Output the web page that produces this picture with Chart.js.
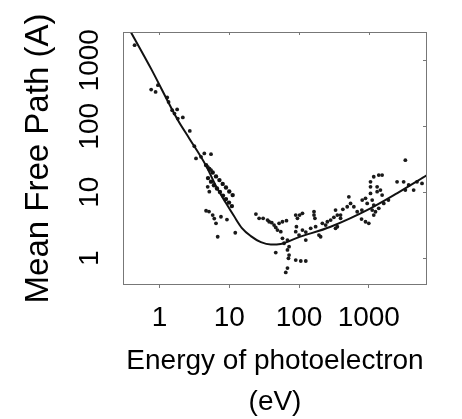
<!DOCTYPE html>
<html>
<head>
<meta charset="utf-8">
<script src="https://cdn.jsdelivr.net/npm/chart.js@4.4.1/dist/chart.umd.min.js"></script>
<style>
  html, body { margin: 0; padding: 0; background: #fff; }
  #wrap { width: 462px; height: 419px; }
</style>
</head>
<body>
<div id="wrap"><canvas id="mfp"></canvas></div>
<script>
// axis ticks
const xTickValues = [1, 10, 100, 1000];
const yTickValues = [1, 10, 100, 1000];

// universal curve (eV, Angstrom)
const curveEnergy = [0.388, 0.76, 1.83, 2.66, 4.6, 6.46, 8.97, 11.7, 15.2, 20.4, 28.4, 39.4, 54.8, 95.8, 284, 1058, 2570, 6830];
const curvePath   = [2680, 740, 124, 66, 25.8, 12.4, 6.87, 4.36, 2.87, 2.17, 1.76, 1.62, 1.65, 2.06, 3.01, 5.71, 9.72, 18.2];

// measured elements
const measEnergy = [
  0.44, 0.76, 0.88, 0.95, 1.29, 1.35, 1.52, 1.79, 1.64, 2.16, 1.83, 2.72, 3.16, 3.34, 3.94, 4.39, 5.48, 4.91, 5.48,
  4.91, 5.18, 4.65, 5.13, 5.79, 6.10, 6.46, 7.61, 9.27, 6.83, 12.2,
  24.1, 26.8, 30.6, 37.3, 40.7, 43.9, 46.4, 51.8, 57.9, 66.1, 49.1, 54.8, 89.7, 102, 94.9, 164, 164, 169,
  91.8, 89.7, 112, 100, 57.9, 68.3, 61.1, 72, 68.3, 72, 70.6, 46.4, 89.7, 106, 125, 68.3, 64.6, 125,
  147, 173, 204, 216, 255, 284, 316, 354, 334, 394, 425, 354, 334, 193, 35.4, 112, 125, 241,
  518, 491, 611, 682, 548, 805, 897, 949, 1058, 1058, 1058, 1119, 1178, 1119, 1178, 897, 1000, 787,
  1178, 1390, 1553, 1318, 1318, 1553, 1638, 1247, 1390, 1469, 2545, 3162, 4395, 3342, 4913, 5790,
  3342, 3727, 394, 795, 1911
];
const measPath = [
  1690, 360, 331, 419, 273, 234, 175, 180, 156, 136, 131, 85, 50, 32.6, 34.4, 38.8, 37.8, 24.3, 21.7,
  12.1, 10.2, 5.25, 5.11, 4.52, 4.00, 3.39, 4.26, 3.86, 2.12, 2.44,
  4.68, 4.03, 4.03, 3.58, 3.46, 3.19, 2.94, 3.39, 3.58, 3.71, 2.68, 2.53, 4.52, 4.52, 4.03, 5.07, 4.52, 4.03,
  3.01, 2.53, 2.68, 2.25, 2.01, 1.89, 1.69, 1.50, 1.34, 1.12, 1.0, 1.22, 0.94, 0.91, 0.91, 0.71, 0.61, 1.89,
  2.84, 3.01, 2.12, 3.39, 3.58, 3.80, 4.17, 4.52, 5.38, 4.52, 5.51, 3.01, 2.84, 2.25, 3.80, 4.80, 2.50, 3.19,
  8.55, 6.04, 6.04, 5.07, 6.79, 7.62, 8.09, 6.79, 14.4, 12.1, 9.62, 7.62, 6.40, 5.38, 4.52, 3.58, 3.39, 3.93,
  17.2, 18.2, 18.2, 12.1, 10.2, 9.07, 6.79, 5.07, 5.71, 10.8, 14.4, 14.4, 10.8, 30.7, 14.4, 13.6,
  10.8, 12.9, 4.03, 5.38, 7.62
];

// two dense runs of points near 5-10 eV
const runEnergy = [4.65, 5.18, 5.79, 6.46, 7.23, 8.05, 8.97, 10.0, 11.2,
                   4.96, 5.48, 6.04, 6.67, 7.36, 8.13, 8.97, 9.91, 10.9];
const runPath   = [25.8, 22.6, 19.9, 17.4, 15.3, 13.4, 11.8, 10.3, 9.07,
                   16.4, 14.5, 12.8, 11.4, 10.1, 8.91, 7.89, 6.98, 6.18];

const toXY = (xs, ys) => xs.map((x, i) => ({ x: x, y: ys[i] }));

const framePlugin = {
  id: "frame",
  afterDraw(chart) {
    const { ctx, chartArea: a, scales } = chart;
    ctx.save();
    ctx.strokeStyle = "#777";
    ctx.lineWidth = 1;
    ctx.strokeRect(a.left + 0.5, a.top + 0.5, a.right - a.left - 1, a.bottom - a.top - 1);
    ctx.beginPath();
    xTickValues.forEach(v => {
      const px = Math.round(scales.x.getPixelForValue(v)) + 0.5;
      ctx.moveTo(px, a.top);
      ctx.lineTo(px, a.top + 3);
    });
    yTickValues.forEach(v => {
      const py = Math.round(scales.y.getPixelForValue(v)) + 0.5;
      ctx.moveTo(a.right, py);
      ctx.lineTo(a.right - 4, py);
    });
    ctx.stroke();
    ctx.restore();
  }
};

const ctx = document.getElementById("mfp").getContext("2d");
new Chart(ctx, {
  type: "scatter",
  data: {
    datasets: [
      {
        label: "curve",
        data: toXY(curveEnergy, curvePath),
        showLine: true,
        borderColor: "#111",
        borderWidth: 2,
        pointRadius: 0,
        cubicInterpolationMode: "monotone",
        fill: false
      },
      {
        label: "data",
        data: toXY(measEnergy, measPath),
        pointRadius: 1.9,
        pointBorderWidth: 0,
        backgroundColor: "#1a1a1a"
      },
      {
        label: "runs",
        data: toXY(runEnergy, runPath),
        pointRadius: 2.2,
        pointBorderWidth: 0,
        backgroundColor: "#111"
      }
    ]
  },
  options: {
    responsive: true,
    maintainAspectRatio: false,
    animation: false,
    devicePixelRatio: 1,
    layout: { padding: { left: 0, top: 32, right: 35, bottom: 0 } },
    plugins: {
      legend: { display: false },
      tooltip: { enabled: false }
    },
    scales: {
      x: {
        type: "logarithmic",
        position: "bottom",
        min: 0.31,
        max: 6830,
        afterBuildTicks: s => { s.ticks = xTickValues.map(v => ({ value: v })); },
        afterFit: s => { s.height = 134; },
        border: { display: false },
        grid: { drawOnChartArea: false, drawTicks: true, tickLength: 3, color: "#777" },
        ticks: {
          padding: 13,
          color: "#000",
          maxRotation: 0,
          font: { family: "Liberation Sans, Arial, sans-serif", size: 28 },
          callback: v => String(v)
        },
        title: {
          display: true,
          text: ["Energy of photoelectron", "(eV)"],
          color: "#000",
          padding: { top: 0, bottom: -4 },
          font: { family: "Liberation Sans, Arial, sans-serif", size: 28, lineHeight: 1.46 }
        }
      },
      y: {
        type: "logarithmic",
        min: 0.394,
        max: 2680,
        afterBuildTicks: s => { s.ticks = yTickValues.map(v => ({ value: v })); },
        afterFit: s => { s.width = 123; },
        border: { display: false },
        grid: { display: false, drawTicks: false },
        ticks: {
          padding: 1.4,
          minRotation: 90,
          maxRotation: 90,
          crossAlign: "center",
          color: "#000",
          font: { family: "Liberation Sans, Arial, sans-serif", size: 28 },
          callback: v => String(v)
        },
        title: {
          display: true,
          text: "Mean Free Path (A)",
          color: "#000",
          padding: { top: 18.8, bottom: 0 },
          font: { family: "Liberation Sans, Arial, sans-serif", size: 33 }
        }
      }
    }
  },
  plugins: [framePlugin]
});
</script>
</body>
</html>
